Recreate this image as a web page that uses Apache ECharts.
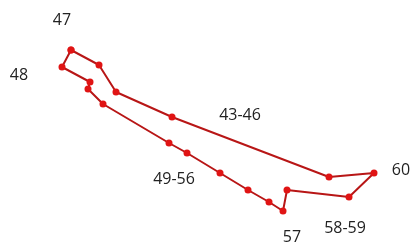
<!DOCTYPE html>
<html>
<head>
<meta charset="utf-8">
<script src="https://cdn.jsdelivr.net/npm/echarts@6/dist/echarts.min.js"></script>
<style>
  html, body { margin: 0; padding: 0; background: #fff; }
  #chart { width: 414px; height: 246px; }
</style>
</head>
<body>
<div id="chart"></div>
<script>
// loop points (closed path, last joins first)
var xs = [71, 99, 116, 172, 329, 374, 349, 287, 283, 269, 248, 220, 187, 169, 103, 88, 90, 62];
var ys = [196, 181, 154, 129, 69, 73, 49, 56, 35, 44, 56, 73, 93, 103, 142, 157, 164, 179];

// group labels and the point each one sits next to
var labelNames = ['47', '48', '43-46', '60', '49-56', '57', '58-59'];
var labelAt = [0, 17, 3, 5, 12, 8, 6];

// label offsets from their point (px)
var labelOffsets = {
    0: [-9, -30],
    17: [-43, 8],
    3: [68, -2],
    5: [27, -3],
    12: [-13, 26],
    8: [9, 26],
    6: [-4, 31]
};

var chart = echarts.init(document.getElementById('chart'));

var points = [];
for (var i = 0; i < xs.length; i++) {
    var item = { value: [xs[i], ys[i]] };
    var k = labelAt.indexOf(i);
    if (k >= 0) {
        item.label = {
            show: true,
            formatter: labelNames[k],
            position: 'inside',
            offset: labelOffsets[i]
        };
    }
    points.push(item);
}
// close the loop
points.push({ value: [xs[0], ys[0]] });

chart.setOption({
    animation: false,
    grid: { left: 0, right: 0, top: 0, bottom: 0 },
    xAxis: { type: 'value', min: 0, max: 414, show: false },
    yAxis: { type: 'value', min: 0, max: 246, show: false },
    series: [{
        type: 'line',
        data: points,
        symbol: 'circle',
        symbolSize: 7,
        showAllSymbol: true,
        lineStyle: { color: '#b81616', width: 2 },
        itemStyle: { color: '#e01414' },
        label: {
            show: false,
            color: '#222',
            fontSize: 16,
            fontFamily: 'Open Sans'
        }
    }]
});
</script>
</body>
</html>
